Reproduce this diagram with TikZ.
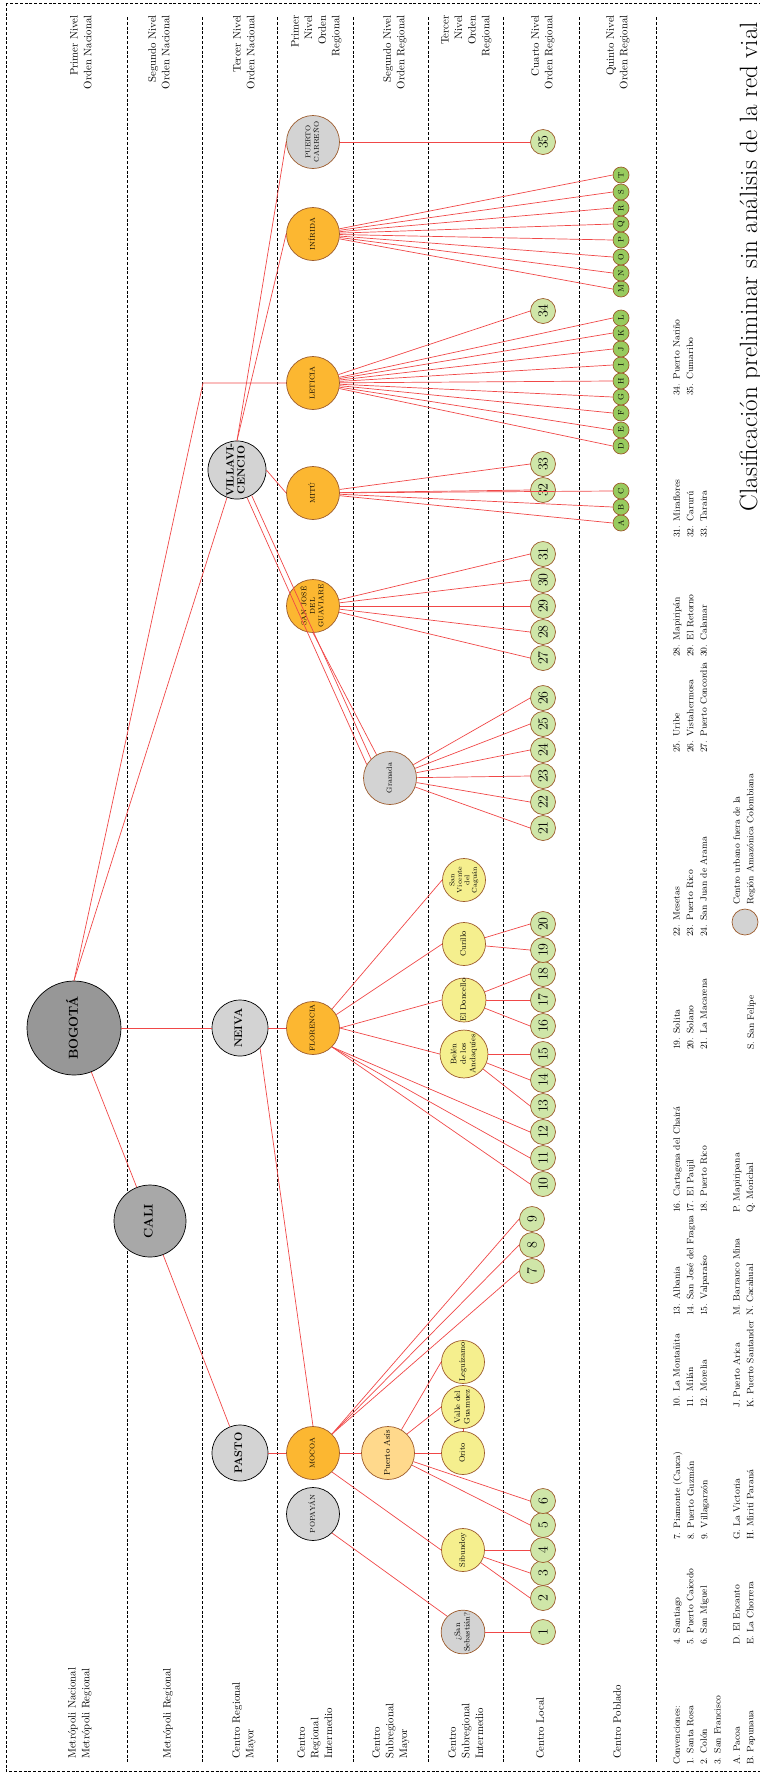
\documentclass[tikz,border=0pt]{standalone}
\usepackage{fontspec}
\definecolor{cred}{HTML}{F04848}
\definecolor{cgrey}{HTML}{D3D3D3}
\definecolor{cgreyD}{HTML}{979797}
\definecolor{cgreyM}{HTML}{A8A8A8}
\definecolor{corange}{HTML}{FCB731}
\definecolor{clight}{HTML}{FFD98C}
\definecolor{cyellow}{HTML}{F5EF8E}
\definecolor{cgreen}{HTML}{CFE6A8}
\definecolor{cgreenD}{HTML}{98CB5E}
\definecolor{cbrown}{HTML}{9C5B2C}
\newcommand{\rt}[1]{\rotatebox{90}{\begin{tabular}{@{}c@{}}#1\end{tabular}}}
\begin{document}
\begin{tikzpicture}[x=1pt,y=-1pt,
  nd/.style={circle, inner sep=0pt, line width=0.7pt, minimum size=#1},
  gry/.style={fill=cgrey, draw=black},
  gryb/.style={fill=cgrey, draw=cbrown},
  org/.style={fill=corange, draw=cbrown, font=\fontsize{7}{8.5}\selectfont},
  yel/.style={fill=cyellow, draw=cbrown, nd=43pt, font=\fontsize{8}{9.5}\selectfont},
  num/.style={nd=25pt, fill=cgreen, draw=cbrown, font=\fontsize{14}{14}\selectfont},
  let/.style={nd=16pt, fill=cgreenD, draw=cbrown, font=\fontsize{8}{8}\selectfont},
  con/.style={draw=cred, line width=0.7pt},
  sep/.style={draw=black, line width=0.6pt, dash pattern=on 3pt off 1.8pt},
  lab/.style={rotate=90, inner sep=0pt, font=\fontsize{10.8}{13.6}\selectfont},
  leg/.style={rotate=90, inner sep=0pt, anchor=north west, align=left, font=\fontsize{9.3}{13.6}\selectfont},
]
\useasboundingbox (0,0) rectangle (760,1773);
% frame and row separators
\draw[sep] (6,3) rectangle (800,1771);
\foreach \x in {127,202,277,353,428,503,579,656}{\draw[sep] (\x,17) -- (\x,1763);}

% left row labels
\node[lab, anchor=north west, align=left] (lr1) at (68,1759) {Metrópoli Nacional\\Metrópoli Regional};
\node[lab, anchor=north west, align=left] (lr2) at (163,1759) {Metrópoli Regional};
\node[lab, anchor=north west, align=left] (lr3) at (232,1759) {Centro Regional\\Mayor};
\node[lab, anchor=north west, align=left] (lr4) at (297,1759) {Centro\\Regional\\Intermedio};
\node[lab, anchor=north west, align=left] (lr5) at (372,1759) {Centro\\Subregional\\Mayor};
\node[lab, anchor=north west, align=left] (lr6) at (448,1759) {Centro\\Subregional\\Intermedio};
\node[lab, anchor=north west, align=left] (lr7) at (536,1759) {Centro Local};
\node[lab, anchor=north west, align=left] (lr8) at (613,1759) {Centro Poblado};

% right row labels
\node[lab, anchor=north east, align=right] (rr1) at (70,15) {Primer Nivel\\Orden Nacional};
\node[lab, anchor=north east, align=right] (rr2) at (148,15) {Segundo Nivel\\Orden Nacional};
\node[lab, anchor=north east, align=right] (rr3) at (233,15) {Tercer Nivel\\Orden Nacional};
\node[lab, anchor=north east, align=right] (rr4) at (291,15) {Primer\\Nivel\\Orden\\Regional};
\node[lab, anchor=north east, align=right] (rr5) at (383,15) {Segundo Nivel\\Orden Regional};
\node[lab, anchor=north east, align=right] (rr6) at (441,15) {Tercer\\Nivel\\Orden\\Regional};
\node[lab, anchor=north east, align=right] (rr7) at (531,15) {Cuarto Nivel\\Orden Regional};
\node[lab, anchor=north east, align=right] (rr8) at (606,15) {Quinto Nivel\\Orden Regional};

% title
\node[rotate=90, inner sep=0pt, anchor=base east, font=\fontsize{25}{28}\selectfont] (title) at (757,22) {Clasificación preliminar sin análisis de la red vial};

% legend
\node[leg] (g1) at (673,1765) {Convenciones:\\1. Santa Rosa\\2. Colón\\3. San Francisco};
\node[leg] (g2) at (673,1645) {4. Santiago\\5. Puerto Caicedo\\6. San Miguel};
\node[leg] (g3) at (673,1540) {7. Piamonte (Cauca)\\8. Puerto Guzmán\\9. Villagarzón};
\node[leg] (g4) at (673,1408) {10. La Montañita\\11. Milán\\12. Morelia};
\node[leg] (g5) at (673,1316) {13. Albania\\14. San José del Fragua\\15. Valparaíso};
\node[leg] (g6) at (673,1213) {16. Cartagena del Chairá\\17. El Paujil\\18. Puerto Rico};
\node[leg] (g7) at (673,1050) {19. Solita\\20. Solano\\21. La Macarena};
\node[leg] (g8) at (673,937) {22. Mesetas\\23. Puerto Rico\\24. San Juan de Arama};
\node[leg] (g9) at (673,753) {25. Uribe\\26. Vistahermosa\\27. Puerto Concordia};
\node[leg] (g10) at (673,657) {28. Mapiripán\\29. El Retorno\\30. Calamar};
\node[leg] (g11) at (673,538) {31. Miraflores\\32. Carurú\\33. Taraira};
\node[leg] (g12) at (673,396) {34. Puerto Nariño\\35. Cumaribo};
\node[leg] (h1) at (733,1765) {A. Pacoa\\B. Papunaua\\C. Yavaraté};
\node[leg] (h2) at (733,1645) {D. El Encanto\\E. La Chorrera\\F. La Pedrera};
\node[leg] (h3) at (733,1540) {G. La Victoria\\H. Mirití Paraná\\I. Puerto Alegría};
\node[leg] (h4) at (733,1408) {J. Puerto Arica\\K. Puerto Santander\\L. Tarapacá};
\node[leg] (h5) at (733,1316) {M. Barranco Mina\\N. Cacahual\\O. La Guadalupe};
\node[leg] (h6) at (733,1213) {P. Mapiripana\\Q. Morichal\\R. Puerto Colombia};
\node[leg] (h7) at (747,1050) {S. San Felipe};
\node[nd=26pt, gryb] (legc) at (745,922) {};
\node[leg] (legt) at (733,905) {Centro urbano fuera de la\\Región Amazónica Colombiana};

% ---- city nodes ----
\node[nd=94pt, fill=cgreyD, draw=black, font=\fontsize{13}{13}\selectfont\bfseries] (bog) at (74,1028) {\rt{BOGOTÁ}};
\node[nd=72pt, fill=cgreyM, draw=black, font=\fontsize{12.5}{13}\selectfont\bfseries] (cal) at (150,1221) {\rt{CALI}};
\node[nd=56pt, gry, font=\fontsize{11}{11}\selectfont\bfseries] (pas) at (240,1453) {\rt{PASTO}};
\node[nd=56pt, gry, font=\fontsize{11}{11}\selectfont\bfseries] (nei) at (240,1028) {\rt{NEIVA}};
\node[nd=56pt, gry, font=\fontsize{10.5}{11}\selectfont\bfseries] (vil) at (237,470) {\rt{VILLAVI-\\CENCIO}};

\node[nd=53pt, gry, font=\fontsize{7}{8.5}\selectfont] (pop) at (313,1514) {\rt{POPAYÁN}};
\node[nd=53pt, org] (moc) at (313,1453) {\rt{MOCOA}};
\node[nd=53pt, org] (flo) at (313,1028) {\rt{FLORENCIA}};
\node[nd=53pt, org] (sjg) at (313,606) {\rt{SAN JOSÉ\\DEL\\GUAVIARE}};
\node[nd=53pt, org] (mit) at (313,493) {\rt{MITÚ}};
\node[nd=53pt, org] (let) at (313,383) {\rt{LETICIA}};
\node[nd=53pt, org] (ini) at (313,234) {\rt{INÍRIDA}};
\node[nd=53pt, gryb, font=\fontsize{7}{8.5}\selectfont] (pca) at (313,142) {\rt{PUERTO\\CARREÑO}};

\node[nd=53pt, fill=clight, draw=cbrown, font=\fontsize{8.4}{9}\selectfont] (pa) at (388,1453) {\rt{Puerto Asís}};
\node[nd=53pt, gryb, font=\fontsize{7.5}{9}\selectfont] (gra) at (390,778) {\rt{Granada}};

\node[yel, gryb] (ssb) at (463,1632) {\rt{¿San\\Sebastián?}};
\node[yel] (sib) at (463,1550) {\rt{Sibundoy}};
\node[yel] (ori) at (463,1453) {\rt{Orito}};
\node[yel] (vgu) at (463,1407) {\rt{Valle del\\Guamuez}};
\node[yel] (leg) at (463,1362) {\rt{Leguízamo}};
\node[yel] (bel) at (464,1054) {\rt{Belén\\de los\\Andaquíes}};
\node[yel] (don) at (464,1000) {\rt{El Doncello}};
\node[yel] (cur) at (464,944) {\rt{Curillo}};
\node[yel, font=\fontsize{7}{7.5}\selectfont] (svc) at (464,880) {\rt{San\\Vicente\\del\\Caguán}};

% numbers
\foreach \n/\y in {1/1632,2/1598,3/1573,4/1550,5/1525,6/1501,10/1184,11/1158,12/1132,13/1106,14/1080,15/1054,16/1026,17/1000,18/974,19/950,20/924,21/828,22/802,23/776,24/750,25/724,26/698,27/658,28/632,29/606,30/580,31/554,32/490,33/464,34/311,35/142}
  {\node[num] (n\n) at (543,\y) {\rotatebox{90}{\n}};}
\foreach \n/\y in {7/1271,8/1245,9/1219}
  {\node[num] (n\n) at (532,\y) {\rotatebox{90}{\n}};}
% letters
\foreach \l/\y in {A/523,B/507,C/491,D/446,E/430,F/413,G/397,H/381,I/365,J/349,K/333,L/318,M/289,N/273,O/257,P/240,Q/224,R/208,S/192,T/175}
  {\node[let] (l\l) at (621,\y) {\rotatebox{90}{\l}};}

% ---- connectors ----
\coordinate (cL) at (203,383);
\draw[con] (bog) -- (cal);
\draw[con] (cal) -- (pas);
\draw[con] (bog.east) -- (nei.west);
\draw[con] (nei.east) -- (flo.west);
\draw[con] (bog.north) -- (vil.250);
\draw[con] (bog.north) -- (cL) -- (let.west);
\draw[con] (pas.east) -- (moc.west);
\draw[con] (nei.-45) -- (moc.north);
\draw[con] (pop.-45) -- (ssb.135);
\draw[con] (ssb.east) -- (n1.west);
\draw[con] (moc.east) -- (pa.west);
\draw[con] (moc.-45) -- (sib.west);
\foreach \k in {7,8,9}{\draw[con] (moc.45) -- (n\k.west);}
\foreach \k in {2,3,4}{\draw[con] (sib) -- (n\k.west);}
\draw[con] (pa.east) -- (ori.west);
\draw[con] (ori.north) -- (vgu.south);
\draw[con] (pa.45) -- (vgu.west);
\draw[con] (pa.60) -- (leg.west);
\draw[con] (pa) -- (n5.west);
\draw[con] (pa) -- (n6.west);
\foreach \k in {10,11,12}{\draw[con] (flo.-45) -- (n\k.west);}
\draw[con] (flo.east) -- (bel.west);
\draw[con] (flo.east) -- (don.west);
\draw[con] (flo.30) -- (cur.west);
\draw[con] (flo.45) -- (svc.west);
\foreach \k in {13,14,15}{\draw[con] (bel) -- (n\k.west);}
\foreach \k in {16,17,18}{\draw[con] (don) -- (n\k.west);}
\foreach \k in {19,20}{\draw[con] (cur) -- (n\k.west);}
\draw[con] (vil.-70) -- (gra.150);
\draw[con] (vil.-60) -- (gra.135);
\draw[con] (sjg.south) -- (gra.120);
\foreach \k in {21,22,23,24,25,26}{\draw[con] (gra) -- (n\k.west);}
\draw[con] (vil.east) -- (mit.west);
\foreach \k in {27,28,29,30,31}{\draw[con] (sjg) -- (n\k.west);}
\foreach \k in {A,B,C}{\draw[con] (mit) -- (l\k.west);}
\foreach \k in {32,33}{\draw[con] (mit) -- (n\k.west);}
\draw[con] (let) -- (n34.west);
\foreach \k in {D,E,F,G,H,I,J,K,L}{\draw[con] (let) -- (l\k.west);}
\foreach \k in {M,N,O,P,Q,R,S,T}{\draw[con] (ini) -- (l\k.west);}
\draw[con] (vil.north) -- (ini.west);
\draw[con] (vil.north) -- (pca.west);
\draw[con] (pca.east) -- (n35.west);
\end{tikzpicture}
\end{document}
